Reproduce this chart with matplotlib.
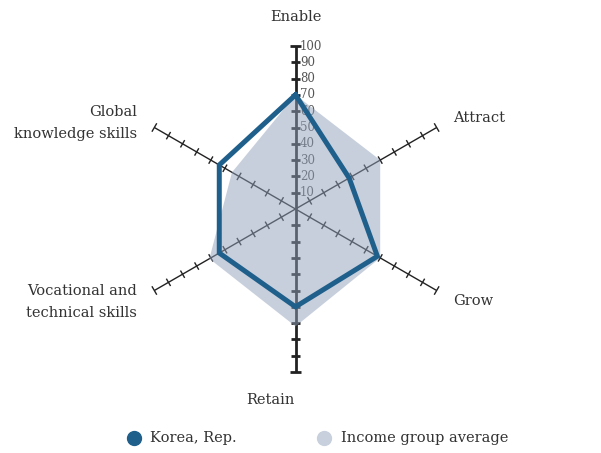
import numpy as np
import matplotlib
matplotlib.use("Agg")
import matplotlib.pyplot as plt
from matplotlib.lines import Line2D

categories = ["Enable", "Attract", "Grow", "Retain",
              "Vocational and\ntechnical skills", "Global\nknowledge skills"]
korea = [70, 38, 58, 60, 54, 54]
income_avg = [70, 60, 60, 72, 61, 45]
tick_values = [10, 20, 30, 40, 50, 60, 70, 80, 90, 100]
series_names = ["Korea, Rep.", "Income group average"]

W, H = 601, 453
CX, CY = 295.5, 209.0
SCALE = 1.63  # pixels per unit

fig = plt.figure(figsize=(W / 100, H / 100), dpi=100)
ax = fig.add_axes([0, 0, 1, 1])
ax.set_xlim(-CX / SCALE, (W - CX) / SCALE)
ax.set_ylim(-(H - CY) / SCALE, CY / SCALE)
ax.axis("off")

angles = np.deg2rad([90, 30, -30, -90, 210, 150])
font = "DejaVu Serif"
axis_col = "#222222"

# axes with ticks
for i, a in enumerate(angles):
    ux, uy = np.cos(a), np.sin(a)
    px, py = -uy, ux
    vertical = i in (0, 3)
    lw = 2.0 if vertical else 1.0
    tl = 2.8 if vertical else 2.6
    ax.plot([0, 100 * ux], [0, 100 * uy], color=axis_col, lw=lw, zorder=1,
            solid_capstyle="butt")
    for t in tick_values:
        half = tl * (1.15 if t == 100 else 1.0)
        ax.plot([t * ux - half * px, t * ux + half * px],
                [t * uy - half * py, t * uy + half * py],
                color=axis_col, lw=lw, zorder=1, solid_capstyle="butt")

for t in tick_values:
    ax.text(2.8, t, str(t), fontsize=8.5, color="#555555", family=font,
            ha="left", va="center", zorder=1)

# income group average fill
ix = [v * np.cos(a) for v, a in zip(income_avg, angles)]
iy = [v * np.sin(a) for v, a in zip(income_avg, angles)]
ax.fill(ix, iy, color="#91a1bb", alpha=0.5, lw=0, zorder=2)

# Korea line
kx = [v * np.cos(a) for v, a in zip(korea, angles)]
ky = [v * np.sin(a) for v, a in zip(korea, angles)]
ax.plot(kx + [kx[0]], ky + [ky[0]], color="#1f5f8b", lw=3.6, zorder=3,
        solid_joinstyle="miter")

# category labels (figure pixel positions)
def ftext(x, y, s, ha):
    fig.text(x / W, 1 - y / H, s, ha=ha, va="center", fontsize=10.5,
             color="#333333", family=font, linespacing=1.75)

ftext(296, 17, categories[0], "center")
ftext(453, 118, categories[1], "left")
ftext(453, 301, categories[2], "left")
ftext(270, 400, categories[3], "center")
ftext(137, 302, categories[4], "right")
ftext(137, 123, categories[5], "right")

# legend
leg_items = [(134, 150, "#1f5f8b", series_names[0]),
             (324, 341, "#c8d0dd", series_names[1])]
for mx, tx, col, name in leg_items:
    fig.add_artist(Line2D([mx / W], [1 - 438 / H], marker="o", markersize=10,
                          color=col, lw=0, transform=fig.transFigure))
    fig.text(tx / W, 1 - 438 / H, name, ha="left", va="center",
             fontsize=10.5, color="#333333", family=font)

fig.savefig("out.png", dpi=100)
